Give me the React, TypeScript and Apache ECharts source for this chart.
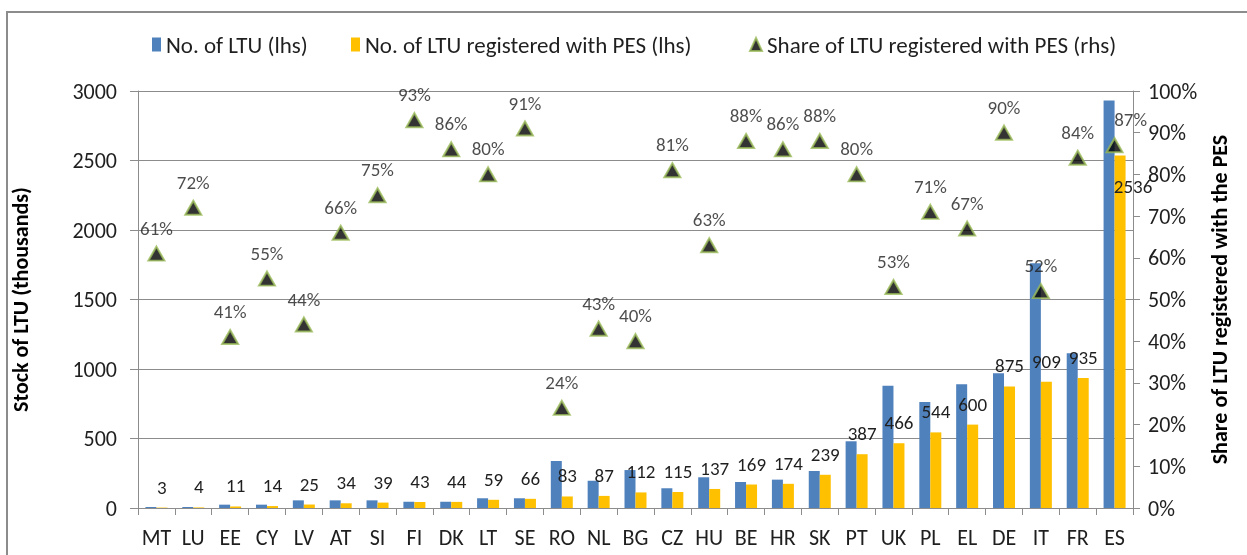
import React, { useEffect, useRef } from "react";
import * as echarts from "echarts";

const categories = ["MT","LU","EE","CY","LV","AT","SI","FI","DK","LT","SE","RO","NL","BG","CZ","HU","BE","HR","SK","PT","UK","PL","EL","DE","IT","FR","ES"];
const ltuTotal = [7,7,24,24,55,55,55,45,45,70,70,338,196,273,142,221,187,204,266,480,880,762,891,970,1760,1114,2932];
const ltuRegistered = [3,4,11,14,25,34,39,43,44,59,66,83,87,112,115,137,169,174,239,387,466,544,600,875,909,935,2536];
const sharePct = [61,72,41,55,44,66,75,93,86,80,91,24,43,40,81,63,88,86,88,80,53,71,67,90,52,84,87];
const leftTicks = [0, 500, 3000];
const rightTicks = [0, 0.1, 1];

const FONT = "Carlito, 'Liberation Sans', sans-serif";
const TXT = "#1f1f1f";

export default function App() {
  const ref = useRef<HTMLDivElement>(null);
  useEffect(() => {
    const chart = echarts.init(ref.current!, null, { renderer: "svg" });
    const last = categories.length - 1;
    const regData = ltuRegistered.map((v, i) =>
      i === last ? { value: v, label: { offset: [13, 52] } } : v
    );
    const shareData = sharePct.map((v, i) =>
      i === last ? { value: v / 100, label: { offset: [16, 0] } } : v / 100
    );
    const legendText = { fontFamily: FONT, fontSize: 23, color: TXT };
    chart.setOption({
      animation: false,
      graphic: [
        {
          type: "rect",
          shape: { x: 7, y: 12, width: 1400, height: 700 },
          style: { fill: "none", stroke: "#8c8c8c", lineWidth: 2 },
          silent: true,
        },
      ],
      legend: [
        { data: ["No. of LTU (lhs)"], left: 152, top: 33, padding: 0, itemWidth: 9, itemHeight: 14, itemGap: 0, textStyle: legendText, icon: "rect" },
        { data: ["No. of LTU registered with PES (lhs)"], left: 351, top: 33, padding: 0, itemWidth: 9, itemHeight: 14, itemGap: 0, textStyle: legendText, icon: "rect" },
        { data: ["Share of LTU registered with PES (rhs)"], left: 749, top: 33, padding: 0, itemWidth: 12, itemHeight: 13, itemGap: 0, textStyle: legendText, icon: "triangle" },
      ],
      grid: { left: 138, right: 114, top: 91, bottom: 47 },
      xAxis: {
        type: "category",
        data: categories,
        axisLine: { lineStyle: { color: "#8c8c8c" } },
        axisTick: { show: true, alignWithLabel: false, interval: 0, length: 7, lineStyle: { color: "#8c8c8c" } },
        axisLabel: { interval: 0, fontFamily: FONT, fontSize: 22, color: TXT, margin: 18 },
      },
      yAxis: [
        {
          type: "value",
          min: leftTicks[0],
          max: leftTicks[2],
          interval: leftTicks[1],
          name: "Stock of LTU (thousands)",
          nameLocation: "middle",
          nameGap: 107,
          nameTextStyle: { fontFamily: FONT, fontSize: 22, fontWeight: "bold", color: "#000" },
          axisLine: { show: true, lineStyle: { color: "#8c8c8c" } },
          axisTick: { show: true, length: 8, lineStyle: { color: "#8c8c8c" } },
          axisLabel: { fontFamily: FONT, fontSize: 22, color: TXT, margin: 21, formatter: (v: number) => String(v) },
          splitLine: { show: true, lineStyle: { color: "#8c8c8c", width: 1 } },
        },
        {
          type: "value",
          min: rightTicks[0],
          max: rightTicks[2],
          interval: rightTicks[1],
          name: "Share of LTU registered with the PES",
          nameLocation: "middle",
          nameGap: 75,
          nameRotate: 90,
          nameTextStyle: { fontFamily: FONT, fontSize: 22, fontWeight: "bold", color: "#000" },
          axisLine: { show: true, lineStyle: { color: "#8c8c8c" } },
          axisTick: { show: true, length: 7, lineStyle: { color: "#8c8c8c" } },
          axisLabel: {
            fontFamily: FONT, fontSize: 22, color: TXT, margin: 15,
            formatter: (v: number) => Math.round(v * 100) + "%",
          },
          splitLine: { show: false },
        },
      ],
      series: [
        {
          name: "No. of LTU (lhs)",
          type: "bar",
          data: ltuTotal,
          barWidth: 11,
          barGap: "0%",
          itemStyle: { color: "#4F81BD" },
        },
        {
          name: "No. of LTU registered with PES (lhs)",
          type: "bar",
          data: regData,
          barWidth: 11,
          barGap: "0%",
          itemStyle: { color: "#FFC000" },
          label: {
            show: true,
            position: "top",
            distance: 11,
            fontFamily: FONT,
            fontSize: 19,
            color: TXT,
          },
        },
        {
          name: "Share of LTU registered with PES (rhs)",
          type: "scatter",
          yAxisIndex: 1,
          data: shareData,
          symbol: "triangle",
          symbolSize: [16, 14],
          itemStyle: { color: "#000", borderColor: "#9BBB59", borderWidth: 2 },
          label: {
            show: true,
            position: "top",
            distance: 8,
            fontFamily: FONT,
            fontSize: 19,
            color: TXT,
            formatter: (p: any) => Math.round(p.value * 100) + "%",
          },
        },
      ],
    });
    return () => chart.dispose();
  }, []);
  return <div ref={ref} style={{ position: "fixed", left: 0, top: 0, width: 1247, height: 555 }} />;
}
